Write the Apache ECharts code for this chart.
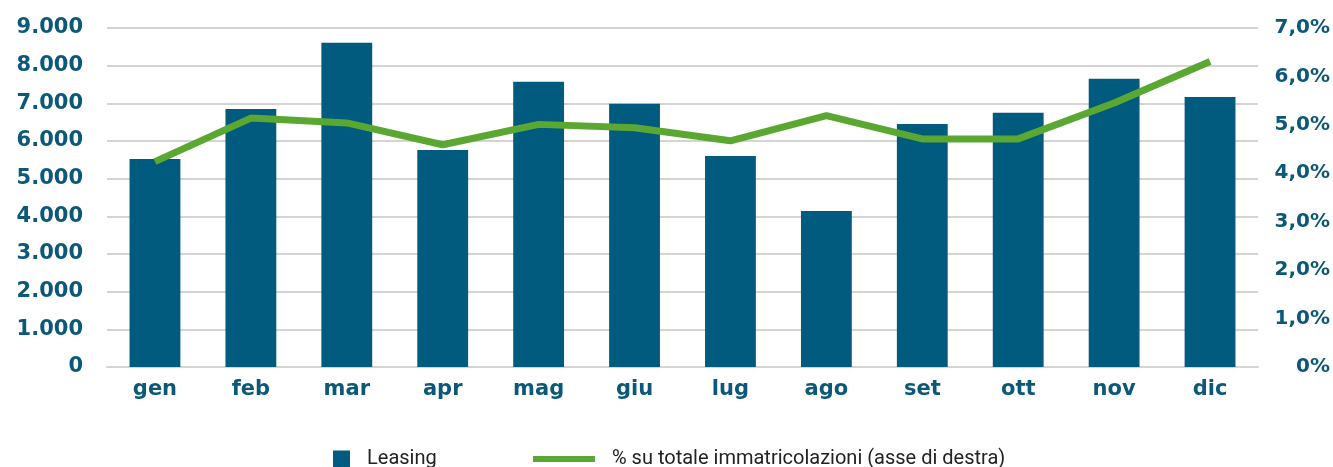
<!DOCTYPE html>
<html style="height: 100%">

<head>
  <meta charset="utf-8">
</head>

<body style="height: 100%; margin: 0; background: #fff">
  <div id="container" style="width: 1333px; height: 467px"></div>
  <script type="text/javascript" src="https://cdn.jsdelivr.net/npm/echarts@6/dist/echarts.min.js"></script>
  <script type="text/javascript">
    // dati
    var mesi = ['gen', 'feb', 'mar', 'apr', 'mag', 'giu', 'lug', 'ago', 'set', 'ott', 'nov', 'dic'];
    var leasing = [5520, 6850, 8610, 5760, 7570, 6990, 5600, 4140, 6450, 6750, 7650, 7170];
    var quota = [4.24, 5.14, 5.04, 4.59, 5.01, 4.94, 4.67, 5.19, 4.71, 4.71, 5.45, 6.31];
    var nomeBar = 'Leasing';
    var nomeLinea = '% su totale immatricolazioni (asse di destra)';

    var blu = '#005b7e';
    var verde = '#5aa832';
    var testo = '#0b5878';
    var font = 'DejaVu Sans';
    var legendaTesto = { fontFamily: 'Roboto', fontSize: 20, color: '#222', lineHeight: 17, padding: [0, 0, 0, 12] };

    var dom = document.getElementById("container");
    var myChart = echarts.init(dom);
    var option = {
      animation: false,
      grid: { left: 107, right: 75, top: 28, bottom: 100 },
      legend: [{
        data: [nomeBar],
        left: 333,
        top: 449,
        padding: 0,
        itemWidth: 17,
        itemHeight: 17,
        icon: 'rect',
        textStyle: legendaTesto
      }, {
        data: [nomeLinea],
        left: 533,
        top: 449,
        padding: 0,
        itemWidth: 62,
        itemHeight: 6,
        icon: 'rect',
        textStyle: legendaTesto
      }],
      xAxis: {
        type: 'category',
        data: mesi,
        axisTick: { show: false },
        axisLine: { lineStyle: { color: '#d4d4d4', width: 2 } },
        axisLabel: { color: testo, fontFamily: font, fontWeight: 'bold', fontSize: 21, margin: 12 }
      },
      yAxis: [{
        type: 'value',
        min: 0,
        max: 9000,
        interval: 1000,
        axisLabel: {
          color: testo, fontFamily: font, fontWeight: 'bold', fontSize: 21, margin: 24,
          formatter: function (v) { return v === 0 ? '0' : (v / 1000) + '.000'; }
        },
        splitLine: { lineStyle: { color: '#d4d4d4', width: 2 } }
      }, {
        type: 'value',
        min: 0,
        max: 7,
        interval: 1,
        splitLine: { show: false },
        axisLabel: {
          color: testo, fontFamily: font, fontWeight: 'bold', fontSize: 20, margin: 72, align: 'right',
          formatter: function (v) { return v === 0 ? '0%' : v.toFixed(1).replace('.', ',') + '%'; }
        }
      }],
      series: [{
        name: nomeBar,
        type: 'bar',
        data: leasing,
        barWidth: '53%',
        itemStyle: { color: blu }
      }, {
        name: nomeLinea,
        type: 'line',
        yAxisIndex: 1,
        data: quota,
        symbol: 'none',
        lineStyle: { color: verde, width: 7 },
        itemStyle: { color: verde }
      }]
    };
    myChart.setOption(option);
  </script>
</body>

</html>
